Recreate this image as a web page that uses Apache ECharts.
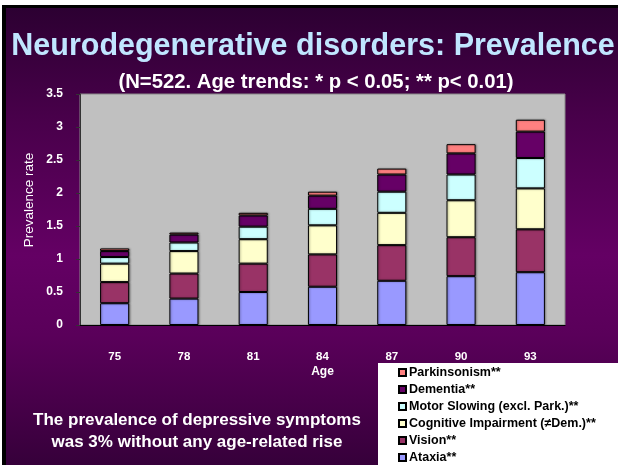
<!DOCTYPE html>
<html>
<head>
<meta charset="utf-8">
<script src="https://cdn.jsdelivr.net/npm/echarts@6/dist/echarts.min.js"></script>
<style>
  html, body { margin: 0; padding: 0; background: #fff; }
  #chart { width: 618px; height: 465px; }
</style>
</head>
<body>
<div id="chart"></div>
<script>
// ages on the x axis
const ages = ['75', '78', '81', '84', '87', '90', '93'];
// stacked prevalence segments, bottom to top
const ataxia = [0.33, 0.40, 0.50, 0.58, 0.67, 0.74, 0.80];
const vision = [0.32, 0.38, 0.43, 0.49, 0.54, 0.59, 0.65];
const cognitive = [0.28, 0.34, 0.37, 0.44, 0.49, 0.56, 0.62];
const motor = [0.10, 0.13, 0.19, 0.25, 0.32, 0.39, 0.46];
const dementia = [0.09, 0.12, 0.17, 0.20, 0.26, 0.32, 0.40];
const parkinsonism = [0.04, 0.03, 0.04, 0.06, 0.09, 0.14, 0.18];

const seriesDefs = [
  ['Ataxia**', ataxia, '#9999ff'],
  ['Vision**', vision, '#993366'],
  ['Cognitive Impairment (\u2260Dem.)**', cognitive, '#ffffcc'],
  ['Motor Slowing (excl. Park.)**', motor, '#ccffff'],
  ['Dementia**', dementia, '#660066'],
  ['Parkinsonism**', parkinsonism, '#ff8080']
];

const font = 'Liberation Sans, Arial, sans-serif';
let chart = echarts.init(document.getElementById('chart'));

let option = {
  animation: false,
  backgroundColor: new echarts.graphic.LinearGradient(0, 0, 0, 1, [
    { offset: 0, color: '#2a0030' },
    { offset: 0.25, color: '#48004a' },
    { offset: 0.55, color: '#640064' },
    { offset: 0.72, color: '#5a005a' },
    { offset: 1, color: '#36003a' }
  ]),
  graphic: [
    { type: 'rect', left: 0, top: 0, shape: { width: 618, height: 5 }, style: { fill: '#fff' } },
    { type: 'rect', left: 0, top: 5, shape: { width: 618, height: 3 }, style: { fill: '#000' } },
    { type: 'rect', left: 0, top: 0, shape: { width: 2, height: 465 }, style: { fill: '#fff' } },
    { type: 'rect', left: 2, top: 5, shape: { width: 4, height: 460 }, style: { fill: '#000' } },
    // white legend box
    { type: 'rect', left: 378, top: 363, shape: { width: 240, height: 102 }, style: { fill: '#fff' }, z: 0 },
    // y axis title
    {
      type: 'text', x: 29, y: 200, rotation: Math.PI / 2,
      style: {
        text: 'Prevalence rate', fill: '#fff', font: '13.5px ' + font,
        align: 'center', verticalAlign: 'middle'
      }
    }
  ],
  title: [
    {
      text: 'Neurodegenerative disorders: Prevalence',
      left: 308, top: 26, textAlign: 'center',
      textStyle: { color: '#c0e6ff', fontSize: 30.5, fontWeight: 'bold', fontFamily: font }
    },
    {
      text: '(N=522. Age trends: * p < 0.05; ** p< 0.01)',
      left: 311, top: 67, textAlign: 'center',
      textStyle: { color: '#fff', fontSize: 20.3, fontWeight: 'bold', fontFamily: font }
    },
    {
      text: 'The prevalence of depressive symptoms\nwas 3% without any age-related rise',
      left: 192, top: 404, textAlign: 'center',
      textStyle: { color: '#fff', fontSize: 17, fontWeight: 'bold', fontFamily: font, lineHeight: 22, align: 'center' }
    }
  ],
  legend: {
    data: seriesDefs.map(d => d[0]).reverse(),
    orient: 'vertical',
    left: 398, top: 366, height: 100,
    padding: 0,
    itemWidth: 7, itemHeight: 7, itemGap: 4,
    icon: 'rect',
    textStyle: { color: '#000', fontSize: 12.5, lineHeight: 13, fontWeight: 'bold', fontFamily: font, padding: [0, 0, 0, -2] }
  },
  grid: {
    left: 80, right: 53, top: 94, bottom: 140,
    show: true, backgroundColor: '#c0c0c0', borderColor: '#888', borderWidth: 1
  },
  xAxis: {
    type: 'category',
    data: ages,
    name: 'Age',
    nameLocation: 'middle',
    nameGap: 41,
    nameTextStyle: { color: '#fff', fontSize: 12, fontWeight: 'bold', fontFamily: font },
    axisLine: { lineStyle: { color: '#000', width: 1 } },
    axisTick: { length: 4, lineStyle: { color: '#000' } },
    axisLabel: { color: '#fff', fontSize: 11.5, fontWeight: 'bold', fontFamily: font, margin: 26 }
  },
  yAxis: {
    type: 'value',
    min: 0, max: 3.5, interval: 0.5,
    splitLine: { show: false },
    axisLine: { show: true, lineStyle: { color: '#333' } },
    axisTick: { show: true, length: 4, lineStyle: { color: '#333' } },
    axisLabel: { color: '#fff', fontSize: 12, fontWeight: 'bold', fontFamily: font, margin: 17 }
  },
  series: seriesDefs.map(d => ({
    name: d[0],
    type: 'bar',
    stack: 'total',
    barWidth: '42%',
    data: d[1],
    itemStyle: {
      color: d[2], borderColor: '#000', borderWidth: 1,
      shadowColor: 'rgba(0,0,0,0.35)', shadowBlur: 2, shadowOffsetX: 1
    }
  }))
};

chart.setOption(option);
</script>
</body>
</html>
